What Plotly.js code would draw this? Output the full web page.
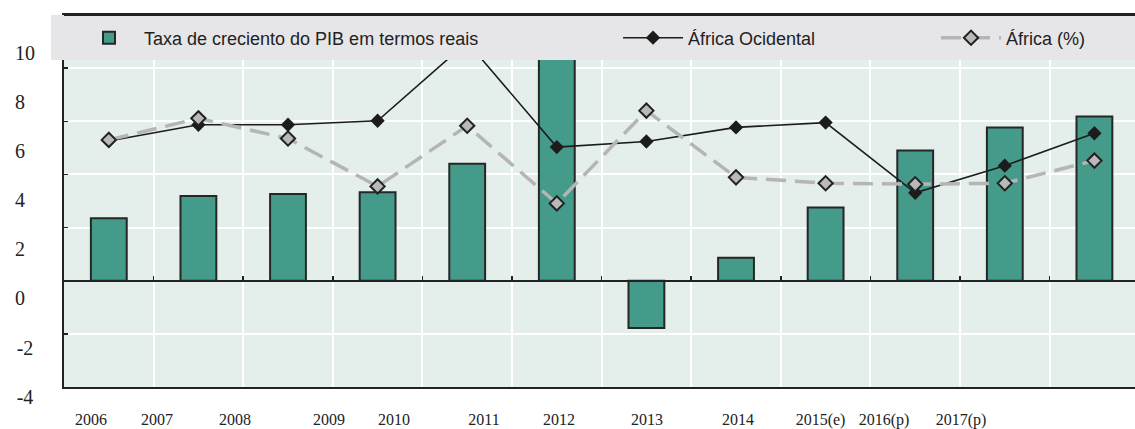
<!DOCTYPE html>
<html>
<head>
<meta charset="utf-8">
<script src="https://cdn.plot.ly/plotly-3.0.1.min.js"></script>
<style>
html,body{margin:0;padding:0;background:#fff;}
#chart{width:1135px;height:429px;}
</style>
</head>
<body>
<div id="chart"></div>
<script>
// ---- data ----
const years = ['2006','2007','2008','2009','2010','2011','2012','2013','2014','2015(e)','2016(p)','2017(p)'];
const pibGrowth = [2.35, 3.19, 3.26, 3.33, 4.40, 11.0, -1.78, 0.86, 2.76, 4.90, 5.77, 6.18];
const westAfrica = [5.26, 5.87, 5.87, 6.02, 8.98, 5.03, 5.24, 5.77, 5.95, 3.31, 4.33, 5.55];
const africa = [5.30, 6.11, 5.35, 3.55, 5.83, 2.91, 6.40, 3.89, 3.67, 3.63, 3.67, 4.52];
const yTickVals = [-4, -2, 0, 2, 4, 6, 8, 10];
const yTickText = ['-4', '-2', '0', '2', '4', '6', '8', '10'];
const seriesNames = ['Taxa de creciento do PIB em termos reais', 'África Ocidental', 'África (%)'];

// ---- layout helpers (positions, not data) ----
const idx = years.map((_, i) => i);
const xLabelPos = [-0.199, 0.538, 1.408, 2.458, 3.183, 4.188, 5.025, 6.007, 7.022, 7.943, 8.652, 9.511];
const boundaries = idx.slice(0, 11).map(i => i + 0.5);
const yDomLo = 0.05584;
const zeroPos = yDomLo + (1 - yDomLo) * 4 / 14;
const xRange = [-0.5, 11.453];
const yTickTextPadded = yTickText.map(t => t.length === 1 ? t + '\u00A0\u00A0' : (t[0] === '-' ? t + '\u200A' : t));
const serif = 'Liberation Serif';

const traces = [
  {
    type: 'bar', x: idx, y: pibGrowth, name: seriesNames[0], width: 0.4,
    marker: {color: '#449b89', line: {color: '#262626', width: 2}},
    legend: 'legend', hoverinfo: 'skip'
  },
  {
    type: 'scatter', mode: 'lines+markers', x: idx, y: westAfrica, xaxis: 'x2', yaxis: 'y',
    name: seriesNames[1], legend: 'legend2',
    line: {color: '#1c1c1c', width: 1.6},
    marker: {symbol: 'diamond', size: 11, color: '#1c1c1c'}, hoverinfo: 'skip'
  },
  {
    type: 'scatter', mode: 'lines+markers', x: idx, y: africa, xaxis: 'x2', yaxis: 'y',
    name: seriesNames[2], legend: 'legend3',
    line: {color: '#b5b5b5', width: 3.5, dash: '20px,9px'},
    marker: {symbol: 'diamond', size: 11, color: '#b9b9b9', line: {color: '#222', width: 2}}, hoverinfo: 'skip'
  },
  {
    type: 'scatter', mode: 'none', x: [0], y: [0], xaxis: 'x3', yaxis: 'y2',
    showlegend: false, hoverinfo: 'skip'
  }
];

const legendFont = {family: 'Liberation Sans', size: 18, color: '#222'};
const legendBase = {
  orientation: 'h', yanchor: 'middle', xanchor: 'left', y: 0.9416,
  bgcolor: 'rgba(0,0,0,0)', borderwidth: 0, font: legendFont, itemwidth: 60
};

const layout = {
  width: 1135, height: 429,
  margin: {l: 64, r: 0, t: 15, b: 20, pad: 0},
  paper_bgcolor: '#ffffff', plot_bgcolor: 'rgba(0,0,0,0)',
  font: {family: serif, color: '#222'},
  showlegend: true,
  xaxis: {
    range: xRange, tickmode: 'array', tickvals: boundaries, showticklabels: false,
    showgrid: true, gridcolor: '#ffffff', gridwidth: 2,
    ticks: 'inside', ticklen: 4, tickwidth: 1.5, tickcolor: '#222',
    showline: true, linecolor: '#222', linewidth: 2,
    anchor: 'free', position: zeroPos, zeroline: false, fixedrange: true
  },
  xaxis2: {
    overlaying: 'x', anchor: 'y', side: 'bottom', range: xRange,
    tickmode: 'array', tickvals: xLabelPos, ticktext: years,
    ticks: '', showgrid: false, zeroline: false,
    showline: true, linecolor: '#222', linewidth: 2, mirror: true,
    tickfont: {family: serif, size: 16, color: '#222'},
    ticklabelstandoff: 17, fixedrange: true
  },
  xaxis3: {domain: [0, 0.001], visible: false, anchor: 'y2', range: [0, 1]},
  yaxis: {
    domain: [yDomLo, 1], range: [-4, 10], tickmode: 'linear', tick0: 0, dtick: 2,
    showticklabels: false, ticks: 'inside', ticklen: 4, tickwidth: 1.5, tickcolor: '#222',
    showline: true, linecolor: '#222', linewidth: 2,
    showgrid: true, gridcolor: '#ffffff', gridwidth: 2, zeroline: false, fixedrange: true
  },
  yaxis2: {
    domain: [0, 1], anchor: 'x3', side: 'left', range: [-4.5006, 11.534],
    tickmode: 'array', tickvals: yTickVals, ticktext: yTickTextPadded,
    ticks: '', showgrid: false, showline: false, zeroline: false,
    tickfont: {family: serif, size: 20, color: '#222'},
    ticklabelstandoff: 28, fixedrange: true
  },
  shapes: [
    {
      type: 'rect', xref: 'x domain', yref: 'y domain', x0: 0, x1: 1, y0: 0, y1: 1,
      fillcolor: '#e4eeea', line: {width: 0}, layer: 'below'
    },
    {
      type: 'rect', xref: 'paper', yref: 'paper',
      x0: -0.01214, x1: 1, y0: 0.8858, y1: 1,
      fillcolor: '#e6e6e8', line: {width: 0}, layer: 'above'
    },
    {
      type: 'line', xref: 'paper', yref: 'paper', x0: 0, x1: 1, y0: 1, y1: 1,
      line: {color: '#222', width: 2}, layer: 'above'
    }
  ],
  legend: Object.assign({}, legendBase, {x: 0.00934}),
  legend2: Object.assign({}, legendBase, {x: 0.5173}),
  legend3: Object.assign({}, legendBase, {x: 0.8142})
};

Plotly.newPlot('chart', traces, layout, {displayModeBar: false, staticPlot: true});
</script>
</body>
</html>
